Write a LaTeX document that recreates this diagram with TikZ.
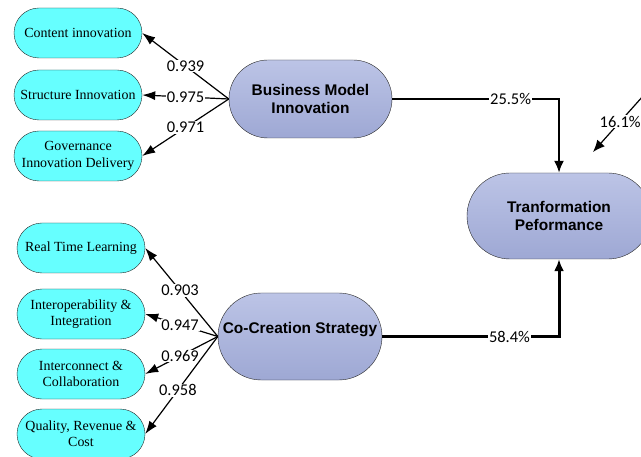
\documentclass[tikz,border=0pt]{standalone}
\usepackage{fontspec}
\setmainfont{Liberation Serif}
\newfontfamily\headfont{Liberation Sans}
\newfontfamily\numfont{Carlito}
\usetikzlibrary{arrows.meta,shapes.misc}

\begin{document}
\begin{tikzpicture}[x=1bp,y=-1bp,
            indicator/.style={rounded rectangle, draw=black!85, fill={rgb,255:red,102;green,255;blue,255}, minimum width=130bp, minimum height=50bp, inner sep=1bp, align=center, font=\fontsize{14}{16.5}\selectfont},
            construct/.style={rounded rectangle, draw=black!85, top color={rgb,255:red,188;green,196;blue,230}, bottom color={rgb,255:red,158;green,168;blue,212}, inner sep=1bp, align=center, font=\headfont\bfseries\fontsize{15.5}{18.5}\selectfont},
            load/.style={-{Latex[length=13bp,width=9bp]}, line width=1.2bp},
            effect/.style={-{Latex[length=12bp,width=10bp]}, line width=2bp},
            weight/.style={fill=white, inner sep=0.8bp, font=\numfont\fontsize{16.5}{19}\selectfont}
        ]
            \useasboundingbox (0,0) rectangle (641,457);
            \clip (0,0) rectangle (641,457);

            % Business model indicators
            \node[indicator] (content) at (78,33) {Content innovation};
            \node[indicator] (structure) at (78,95) {Structure Innovation};
            \node[indicator] (governance) at (78,156) {Governance\\Innovation Delivery};

            % Co-creation indicators
            \node[indicator] (learning) at (81,248) {Real Time Learning};
            \node[indicator] (interop) at (81,314) {Interoperability \&\\Integration};
            \node[indicator] (interconnect) at (81,374) {Interconnect \&\\Collaboration};
            \node[indicator] (quality) at (81,434) {Quality, Revenue \&\\Cost};

            % Constructs
            \node[construct, minimum width=165bp, minimum height=78bp] (bmi) at (310.5,99) {Business Model\\Innovation};
            \node[construct, minimum width=166bp, minimum height=87bp, text depth=17bp] (ccs) at (300,336.5) {Co-Creation Strategy};
            \node[construct, minimum width=186bp, minimum height=86bp] (tp) at (559,216) {Tranformation\\Peformance};

            % Outer loadings
            \draw[load] (bmi.west) -- (content.east) node[weight,midway] {0.939};
            \draw[load] (bmi.west) -- (structure.east) node[weight,midway] {0.975};
            \draw[load] (bmi.west) -- (governance.east) node[weight,midway] {0.971};
            \draw[load] (ccs.west) -- (learning.east) node[weight,pos=0.52] {0.903};
            \draw[load] (ccs.west) -- (interop.east) node[weight,pos=0.52] {0.947};
            \draw[load] (ccs.west) -- (interconnect.east) node[weight,pos=0.52] {0.969};
            \draw[load] (ccs.west) -- (quality.east) node[weight,pos=0.55] {0.958};

            % Path effects
            \draw[effect] (bmi.east) -| (tp.north) node[weight,pos=0.355] {25.5\%};
            \draw[effect, line width=3bp] (ccs.east) -| (tp.south) node[weight,pos=0.36] {58.4\%};

            % Effect coming in from outside the picture
            \coordinate (outer) at (652,86);
            \coordinate (outer tip) at (593,152);
            \draw[load, -{Latex[length=12bp,width=10bp]}] (outer) -- (outer tip) node[weight,pos=0.54] {16.1\%};

        \end{tikzpicture}
\end{document}
